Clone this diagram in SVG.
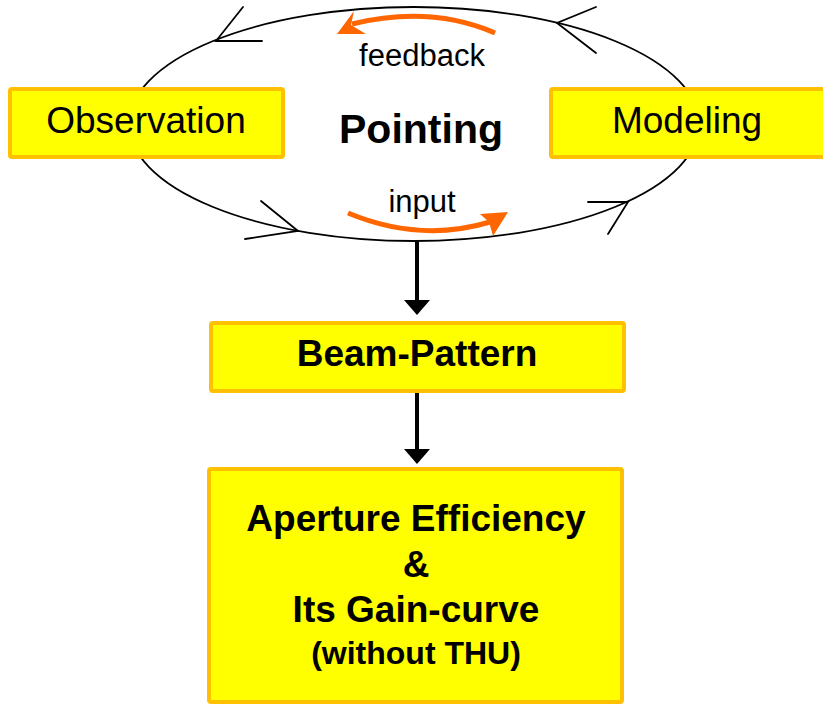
<svg xmlns="http://www.w3.org/2000/svg" width="823" height="705" viewBox="0 0 823 705">
<style>
.box{fill:#FFFF00;stroke:#FFC000;stroke-width:4}
.t{font-family:"Liberation Sans",Arial,sans-serif;fill:#000;text-anchor:middle}
.b{font-weight:bold}
.thin{fill:none;stroke:#000;stroke-width:1.8;stroke-linecap:round}
.org{fill:none;stroke:#FF6600;stroke-width:5}
.of{fill:#FF6600}
</style>
<rect width="823" height="705" fill="#fff"/>
<g id="cycle">
<ellipse cx="414" cy="124" rx="285" ry="117" class="thin"/>
<polyline class="thin" points="243,7 216,41 262,41"/>
<polyline class="thin" points="596,7 557,23 596,53"/>
<polyline class="thin" points="261,201 298,231 245,239"/>
<polyline class="thin" points="588,202 628,202 608,234"/>
</g>
<g id="feedback">
<path class="org" d="M495,33 Q430,5 352,24"/>
<polygon class="of" points="337,34 354,11 351,25 366,34"/>
<text class="t" x="422" y="66" font-size="31">feedback</text>
</g>
<g id="input">
<path class="org" d="M348,213 Q420,243 490,222"/>
<polygon class="of" points="508,212 480,214 489,222 493,236"/>
<text class="t" x="422" y="212" font-size="31">input</text>
</g>
<g id="pointing">
<text class="t b" x="421" y="143" font-size="41">Pointing</text>
</g>
<g id="observation">
<rect class="box" x="10" y="89" width="273" height="68" rx="2"/>
<text class="t" x="146" y="133" font-size="37">Observation</text>
</g>
<g id="modeling">
<rect class="box" x="551" y="89" width="300" height="68" rx="2"/>
<text class="t" x="687" y="133" font-size="37">Modeling</text>
</g>
<g id="beam">
<rect class="box" x="211" y="323" width="413" height="68" rx="2"/>
<text class="t b" x="417" y="366" font-size="37">Beam-Pattern</text>
</g>
<g id="aperture">
<rect class="box" x="209" y="469" width="413" height="233" rx="2"/>
<text class="t b" x="416" y="531" font-size="37">Aperture Efficiency</text>
<text class="t b" x="416" y="577" font-size="37">&amp;</text>
<text class="t b" x="416" y="622" font-size="37">Its Gain-curve</text>
<text class="t b" x="416" y="664" font-size="32">(without THU)</text>
</g>
<g id="connectors">
<line x1="417" y1="241" x2="417" y2="302" stroke="#000" stroke-width="4"/>
<polygon points="404,300 430,300 417,315" fill="#000"/>
<line x1="417" y1="393" x2="417" y2="451" stroke="#000" stroke-width="4"/>
<polygon points="404,449 430,449 417,464" fill="#000"/>
</g>
</svg>
